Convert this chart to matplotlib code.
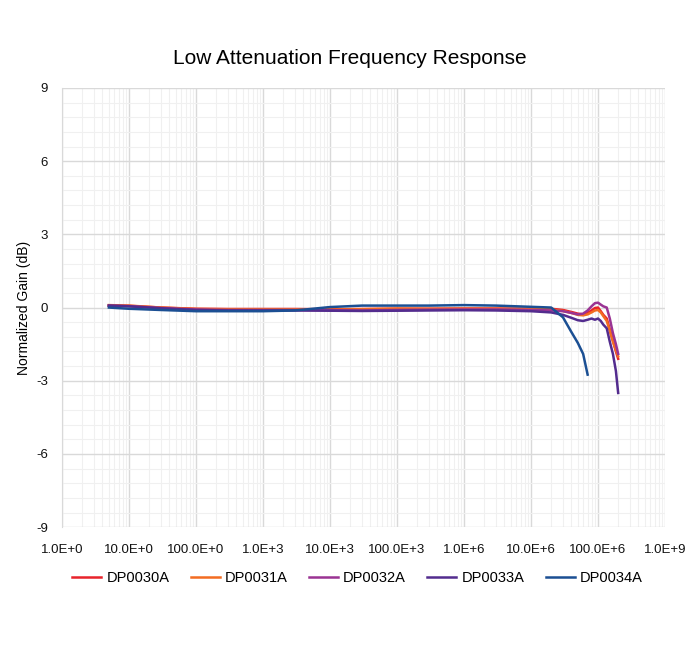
import numpy as np
import matplotlib.pyplot as plt
from matplotlib.ticker import FixedLocator, NullFormatter

plt.rcParams['font.family'] = ['Liberation Sans', 'DejaVu Sans']
plt.rcParams['axes.unicode_minus'] = False

# frequency points (Hz)
freq = [5, 10, 30, 100, 300, 1e3, 3e3, 1e4, 3e4, 1e5, 3e5, 1e6, 3e6, 1e7,
        2e7, 3e7, 4e7, 5e7, 6e7, 7e7, 8e7, 9e7, 1e8, 1.1e8, 1.2e8, 1.35e8,
        1.5e8, 1.67e8, 1.85e8, 2e8]

names = ['DP0030A', 'DP0031A', 'DP0032A', 'DP0033A', 'DP0034A']
colors = ['#E8232B', '#F36C21', '#9A3393', '#532C8E', '#1B4F93']

g30 = [0.08, 0.07, 0.0, -0.05, -0.06, -0.06, -0.06, -0.07, -0.06, -0.05, -0.05,
       -0.04, -0.04, -0.05, -0.05, -0.1, -0.18, -0.25, -0.28, -0.22, -0.12, -0.02,
       0.0, -0.15, -0.3, -0.45, -0.9, -1.35, -1.8, -2.1]
g31 = [0.1, 0.08, 0.0, -0.06, -0.07, -0.07, -0.07, -0.08, -0.07, -0.04, -0.05,
       -0.05, -0.05, -0.06, -0.08, -0.14, -0.22, -0.3, -0.32, -0.28, -0.2, -0.12,
       -0.1, -0.2, -0.35, -0.55, -0.95, -1.4, -1.75, -2.0]
g32 = [0.08, 0.06, -0.02, -0.08, -0.1, -0.1, -0.1, -0.11, -0.12, -0.1, -0.09,
       -0.08, -0.08, -0.1, -0.12, -0.15, -0.22, -0.28, -0.25, -0.12, 0.05, 0.18,
       0.2, 0.12, 0.05, 0.0, -0.45, -1.05, -1.5, -1.9]
g33 = [0.08, 0.05, -0.03, -0.1, -0.12, -0.12, -0.12, -0.13, -0.14, -0.13, -0.12,
       -0.11, -0.12, -0.15, -0.2, -0.3, -0.42, -0.52, -0.55, -0.5, -0.45, -0.5,
       -0.45, -0.55, -0.7, -0.85, -1.4, -1.9, -2.6, -3.5]
g34 = [0.0, -0.05, -0.1, -0.15, -0.15, -0.15, -0.12, 0.02, 0.08, 0.08, 0.08,
       0.1, 0.08, 0.03, 0.0, -0.4, -1.0, -1.45, -1.9, -2.75]
gains = [g30, g31, g32, g33, g34]

xlabels = ['1.0E+0', '10.0E+0', '100.0E+0', '1.0E+3', '10.0E+3', '100.0E+3',
           '1.0E+6', '10.0E+6', '100.0E+6', '1.0E+9']
yticks = [-9, -6, -3, 0, 3, 6, 9]

fig = plt.figure(figsize=(7, 6.5), dpi=100)
ax = fig.add_axes([0.0886, 0.189, 0.8614, 0.6757])

for name, col, g in zip(names, colors, gains):
    ax.plot(freq[:len(g)], g, color=col, lw=1.8, label=name)

ax.set_xscale('log')
ax.set_xlim(1, 1e9)
ax.set_ylim(-9, 9)
ax.set_xticks([10.0 ** k for k in range(10)])
ax.set_xticklabels(xlabels)
ax.xaxis.set_minor_locator(FixedLocator(
    [m * 10.0 ** k for k in range(9) for m in range(2, 10)]))
ax.xaxis.set_minor_formatter(NullFormatter())
ax.set_yticks(yticks)
ax.set_yticks(np.arange(-9, 9.01, 0.6), minor=True)

ax.grid(which='major', color='#D9D9D9', lw=1.0)
ax.grid(which='minor', color='#F0F0F0', lw=0.8)
ax.set_axisbelow(True)
for s in ['top', 'right', 'bottom']:
    ax.spines[s].set_visible(False)
ax.spines['left'].set_color('#D9D9D9')
ax.tick_params(which='both', length=0, labelsize=9.5, colors='#111111')
ax.tick_params(axis='x', pad=12)
ax.tick_params(axis='y', pad=10)

ax.set_ylabel('Normalized Gain (dB)', fontsize=10)
fig.text(0.5, 1 - 58 / 650, 'Low Attenuation Frequency Response',
         fontsize=15, ha='center', va='center')

ax.legend(loc='upper center', bbox_to_anchor=(0.49, -0.07), ncol=5,
          frameon=False, fontsize=10.5, handlelength=2.0, handletextpad=0.35,
          columnspacing=1.45)

fig.savefig('out.png', dpi=100)
